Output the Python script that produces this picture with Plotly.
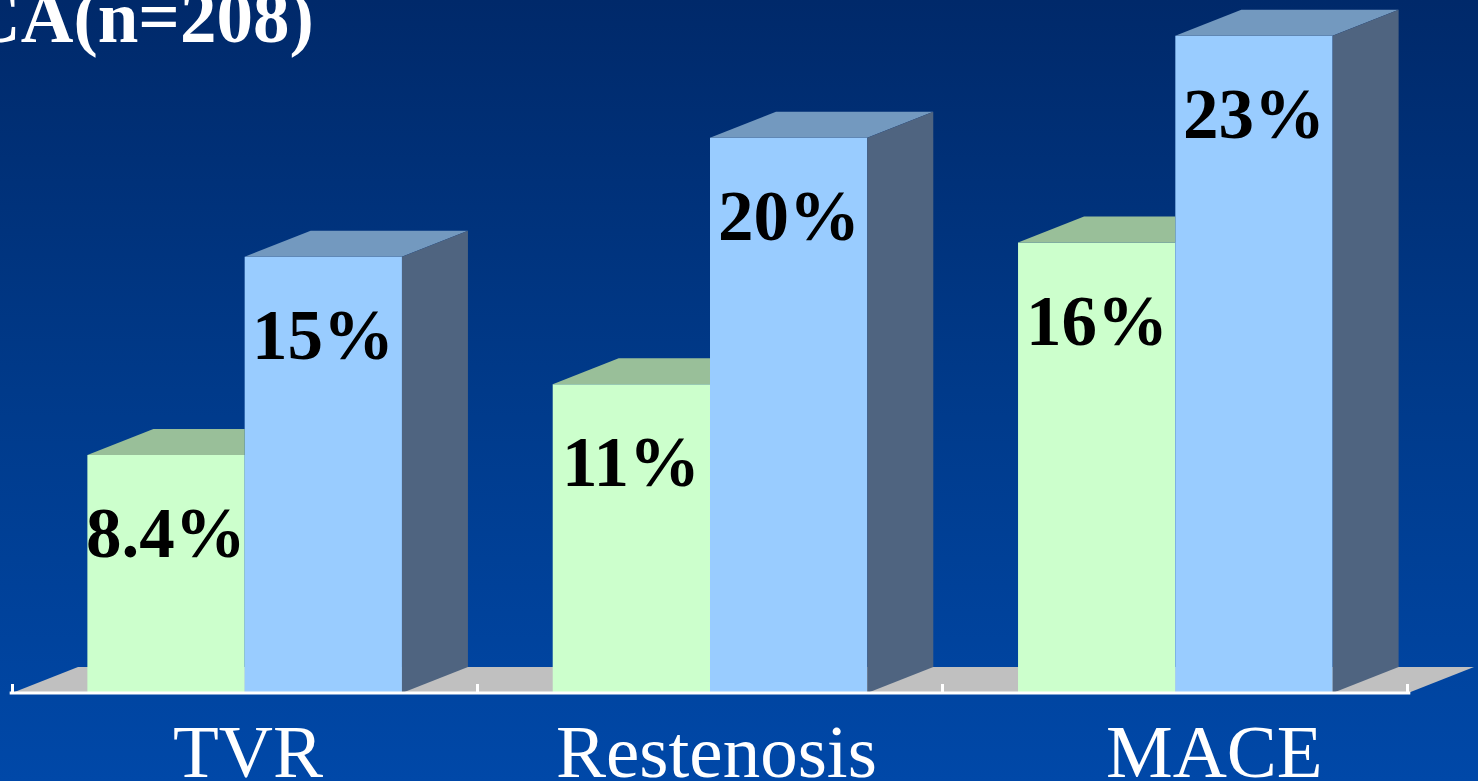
import base64
import plotly.graph_objects as go

# ---------------- data ----------------
categories = ["TVR", "Restenosis", "MACE"]
green_values = [8.4, 10.9, 15.9]
blue_values = [15.4, 19.6, 23.2]
green_labels = ["8.4%", "11%", "16%"]
blue_labels = ["15%", "20%", "23%"]
title_text = "CA(n=208)"

# ---------------- style / geometry ----------------
W, H = 1478, 781
PX_PER_CAT = 465.33          # pixels per category unit on x
PX_PER_PCT = 28.33           # pixels per percent on y
X_LEFT_PX = 12               # pixel of x = -0.5
BASE_PX = 693                # pixel of y = 0
DEPTH_DX = 66 / PX_PER_CAT   # 3D depth offset in x units
DEPTH_DY = 26 / PX_PER_PCT   # 3D depth offset in y units
BAR_W = 0.338
LABEL_XSHIFT = [3, 6, 39]    # category label horizontal nudges (px)

GREEN_FRONT, GREEN_TOP = "#ccffcc", "#99bf99"
BLUE_FRONT, BLUE_TOP, BLUE_SIDE = "#99ccff", "#7399bf", "#4f6480"
FLOOR = "#c0c0c0"
SERIF = "Liberation Serif, Times New Roman, serif"

x_range = [-0.5 - X_LEFT_PX / PX_PER_CAT, -0.5 + (W - X_LEFT_PX) / PX_PER_CAT]
y_range = [-(H - BASE_PX) / PX_PER_PCT, BASE_PX / PX_PER_PCT]

xs = list(range(len(categories)))

fig = go.Figure()

# front faces (bars)
fig.add_trace(go.Bar(x=xs, y=green_values, width=BAR_W, offset=-BAR_W,
                     marker=dict(color=GREEN_FRONT, line=dict(width=0)),
                     hoverinfo="skip", showlegend=False))
fig.add_trace(go.Bar(x=xs, y=blue_values, width=BAR_W, offset=0,
                     marker=dict(color=BLUE_FRONT, line=dict(width=0)),
                     hoverinfo="skip", showlegend=False))


def poly(px, py, color):
    fig.add_trace(go.Scatter(x=px + [px[0]], y=py + [py[0]], mode="lines",
                             fill="toself", fillcolor=color,
                             line=dict(width=0, color=color),
                             hoverinfo="skip", showlegend=False))


for i, (g, b) in enumerate(zip(green_values, blue_values)):
    gx0, gx1 = i - BAR_W, i
    bx0, bx1 = i, i + BAR_W
    # visible part of green top face (rest hidden behind the blue bar)
    poly([gx0, gx0 + DEPTH_DX, gx1, gx1], [g, g + DEPTH_DY, g + DEPTH_DY, g], GREEN_TOP)
    # blue top face
    poly([bx0, bx0 + DEPTH_DX, bx1 + DEPTH_DX, bx1], [b, b + DEPTH_DY, b + DEPTH_DY, b], BLUE_TOP)
    # blue side face
    poly([bx1, bx1 + DEPTH_DX, bx1 + DEPTH_DX, bx1], [0, DEPTH_DY, b + DEPTH_DY, b], BLUE_SIDE)

# value labels
annotations = []
for i, (g, b) in enumerate(zip(green_values, blue_values)):
    annotations.append(dict(x=i - BAR_W / 2, y=g, yshift=-78, text=green_labels[i],
                            showarrow=False, xanchor="center", yanchor="middle",
                            font=dict(family=SERIF, size=71, color="black", weight="bold")))
    annotations.append(dict(x=i + BAR_W / 2, y=b, yshift=-78, text=blue_labels[i],
                            showarrow=False, xanchor="center", yanchor="middle",
                            font=dict(family=SERIF, size=71, color="black", weight="bold")))

# category labels
for i, c in enumerate(categories):
    annotations.append(dict(x=i, y=-(751 - BASE_PX) / PX_PER_PCT, text=c, showarrow=False,
                            xanchor="center", yanchor="middle", xshift=LABEL_XSHIFT[i],
                            font=dict(family=SERIF, size=75, color="white")))

# title (cut at the left edge like the reference)
annotations.append(dict(x=316 / W, y=1 - 18 / H, xref="paper", yref="paper",
                        text=title_text, showarrow=False, xanchor="right", yanchor="middle",
                        font=dict(family=SERIF, size=73, color="white", weight="bold")))

# background gradient
svg = (f'<svg xmlns="http://www.w3.org/2000/svg" width="{W}" height="{H}" preserveAspectRatio="none">'
       '<defs><linearGradient id="g" x1="0" y1="0" x2="0" y2="1">'
       '<stop offset="0" stop-color="#00296a"/><stop offset="0.5" stop-color="#003a8a"/>'
       '<stop offset="1" stop-color="#0048a8"/></linearGradient></defs>'
       f'<rect x="0" y="0" width="{W}" height="{H}" fill="url(#g)"/></svg>')
src = "data:image/svg+xml;base64," + base64.b64encode(svg.encode()).decode()

shapes = [
    # floor
    dict(type="path", xref="x", yref="y", layer="below",
         path=(f"M {-0.5} 0 L {2.5} 0 L {2.5 + DEPTH_DX} {DEPTH_DY} "
               f"L {-0.5 + DEPTH_DX} {DEPTH_DY} Z"),
         fillcolor=FLOOR, line=dict(width=0)),
    # baseline
    dict(type="line", xref="x", yref="y", x0=-0.505, x1=2.505, y0=0, y1=0,
         line=dict(color="white", width=3), layer="above"),
]

fig.update_layout(
    width=W, height=H, margin=dict(l=0, r=0, t=0, b=0),
    paper_bgcolor="#003a8a", plot_bgcolor="rgba(0,0,0,0)",
    barmode="overlay", showlegend=False,
    images=[dict(source=src, xref="paper", yref="paper", x=0, y=1, sizex=1, sizey=1,
                 sizing="stretch", xanchor="left", yanchor="top", layer="below")],
    shapes=shapes, annotations=annotations,
    xaxis=dict(range=x_range, showgrid=False, zeroline=False, showline=False,
               tickvals=[-0.5, 0.5, 1.5, 2.5], ticktext=["", "", "", ""],
               ticks="inside", ticklen=9, tickwidth=2.5, tickcolor="white",
               anchor="free", position=(H - BASE_PX) / H, fixedrange=True),
    yaxis=dict(range=y_range, showgrid=False, zeroline=False, showline=False,
               showticklabels=False, ticks="", fixedrange=True),
)

fig.write_html("out.html")
